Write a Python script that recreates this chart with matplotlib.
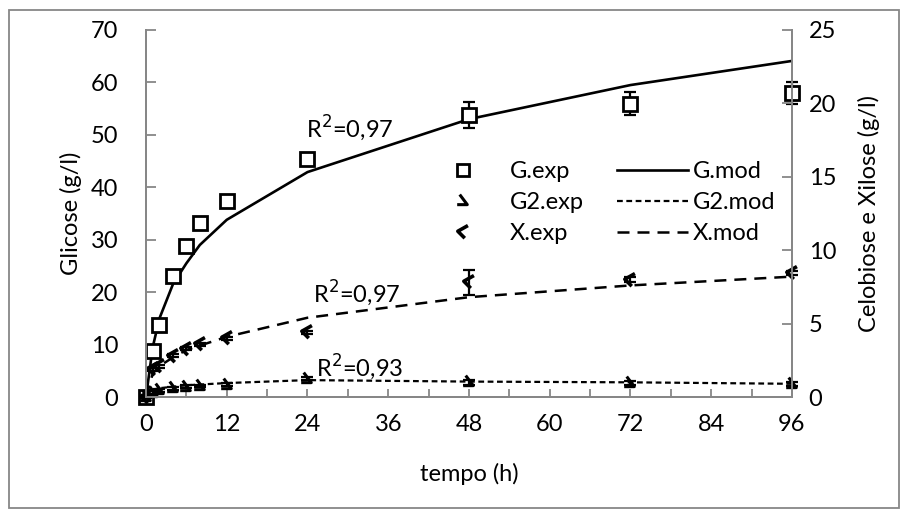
import matplotlib
matplotlib.use("Agg")
import matplotlib.pyplot as plt
from matplotlib.path import Path
from matplotlib.patches import Rectangle
from matplotlib.lines import Line2D

# tempo de hidrólise (h)
t_exp = [0, 1, 2, 4, 6, 8, 12, 24, 48, 72, 96]
t_mod = [0, 1, 2, 4, 6, 8, 12, 24, 48, 72, 96]

# glicose (eixo esquerdo, g/l)
g_exp = [0, 8.8, 13.7, 23.1, 28.8, 33.2, 37.4, 45.4, 53.8, 55.9, 58.0]
g_err = [0.4, 0.6, 0.8, 0.7, 1.0, 0.6, 0.6, 0.5, 2.5, 2.2, 2.1]
g_mod = [0, 9.5, 15.0, 21.5, 25.5, 29.0, 33.8, 42.9, 53.0, 59.5, 64.1]

# celobiose e xilose (eixo direito, g/l)
g2_exp = [0, 0.3, 0.45, 0.6, 0.7, 0.75, 0.85, 1.25, 1.0, 0.95, 0.9]
g2_err = [0.05, 0.1, 0.1, 0.1, 0.1, 0.1, 0.1, 0.1, 0.15, 0.15, 0.15]
g2_mod = [0, 0.5, 0.6, 0.7, 0.8, 0.85, 0.95, 1.15, 1.05, 1.0, 0.9]

x_exp = [0, 1.9, 2.1, 2.8, 3.3, 3.6, 4.0, 4.4, 7.8, 8.0, 8.45]
x_err = [0.05, 0.1, 0.1, 0.1, 0.1, 0.1, 0.1, 0.1, 0.85, 0.15, 0.15]
x_mod = [0, 1.6, 2.1, 2.7, 3.2, 3.5, 4.1, 5.4, 6.8, 7.6, 8.2]

r2_labels = ["0,97", "0,97", "0,93"]

plt.rcParams['font.family'] = ['Lato', 'DejaVu Sans']
plt.rcParams['font.size'] = 17
grey = '#878787'

fig = plt.figure(figsize=(9.04, 5.12), dpi=100)
W, H = 904, 512
ax = fig.add_axes([146 / W, 1 - 397 / H, (792 - 146) / W, (397 - 30) / H])
ax2 = ax.twinx()

# moldura externa do gráfico
fig.patches.append(Rectangle((9 / W, 1 - 508 / H), (899 - 9) / W, (508 - 10) / H,
                             transform=fig.transFigure, fill=False,
                             edgecolor=grey, lw=1.3))


def no_clip(container):
    for art in container.get_children():
        art.set_clip_on(False)


sq = dict(marker='s', ms=10, mfc='white', mec='black', mew=2.0)
m_g2 = Path([(-0.3, 0.55), (0.3, -0.25), (-0.5, -0.25)])
m_x = Path([(0.35, 0.55), (-0.45, 0.1), (0.1, -0.45)])

ax.plot(t_mod, g_mod, color='black', lw=1.9, zorder=3)
no_clip(ax.errorbar(t_exp, g_exp, yerr=g_err, fmt='none', ecolor='black',
                    elinewidth=1.6, capsize=4.5, capthick=1.6, zorder=4))
ax.plot(t_exp, g_exp, ls='none', zorder=5, clip_on=False, **sq)

ax2.plot(t_mod, g2_mod, color='black', lw=1.6, dashes=(2.6, 1.6))
ax2.plot(t_mod, x_mod, color='black', lw=1.8, dashes=(4.8, 3.2))
no_clip(ax2.errorbar(t_exp, g2_exp, yerr=g2_err, fmt='none', ecolor='black',
                     elinewidth=1.6, capsize=4.5, capthick=1.6))
no_clip(ax2.errorbar(t_exp, x_exp, yerr=x_err, fmt='none', ecolor='black',
                     elinewidth=1.6, capsize=4.5, capthick=1.6))
ax2.plot(t_exp, g2_exp, ls='none', marker=m_g2, ms=10, mfc='none',
         mec='black', mew=2.2, clip_on=False)
ax2.plot(t_exp, x_exp, ls='none', marker=m_x, ms=10, mfc='none',
         mec='black', mew=2.6, clip_on=False)

ax.set_xlim(0, 96)
ax.set_ylim(0, 70)
ax2.set_ylim(0, 25)
ax.set_xticks(range(0, 97, 12))
ax.set_xticks(range(6, 96, 12), minor=True)
ax.set_yticks(range(0, 71, 10))
ax2.set_yticks(range(0, 26, 5))

for a in (ax, ax2):
    a.spines['top'].set_visible(False)
    for s in ('left', 'right', 'bottom'):
        a.spines[s].set_color(grey)
        a.spines[s].set_linewidth(1.4)
ax.tick_params(axis='x', which='both', direction='in', length=6, width=1.3,
               color=grey, pad=12)
ax.tick_params(axis='y', direction='in', length=7, width=1.3, color=grey, pad=20)
ax2.tick_params(axis='y', direction='in', length=7, width=1.3, color=grey, pad=12)

ax.set_xlabel("tempo (h)", labelpad=20)
ax.set_ylabel("Glicose (g/l)", labelpad=6)
ax2.set_ylabel("Celobiose e Xilose (g/l)", labelpad=16)

ax.text(23.8, 51.3, "R$^2$=" + r2_labels[0], va='center', ha='left')
ax.text(24.8, 19.8, "R$^2$=" + r2_labels[1], va='center', ha='left')
ax.text(25.3, 5.7, "R$^2$=" + r2_labels[2], va='center', ha='left')

h_exp = [Line2D([], [], ls='none', marker='s', ms=9, mfc='white', mec='black', mew=2.0),
         Line2D([], [], ls='none', marker=m_g2, ms=10, mfc='none', mec='black', mew=2.2),
         Line2D([], [], ls='none', marker=m_x, ms=10, mfc='none', mec='black', mew=2.6)]
h_mod = [Line2D([], [], color='black', lw=1.9),
         Line2D([], [], color='black', lw=1.6, dashes=(2.6, 1.6)),
         Line2D([], [], color='black', lw=1.8, dashes=(4.8, 3.2))]

leg1 = ax2.legend(h_exp, ["G.exp", "G2.exp", "X.exp"], loc='upper left',
                  bbox_to_anchor=(451 / W, 1 - 161 / H), bbox_transform=fig.transFigure,
                  frameon=False, handlelength=1.0, handletextpad=1.5,
                  labelspacing=0.42, borderpad=0, borderaxespad=0)
ax2.add_artist(leg1)
ax2.legend(h_mod, ["G.mod", "G2.mod", "X.mod"], loc='upper left',
           bbox_to_anchor=(617 / W, 1 - 161 / H), bbox_transform=fig.transFigure,
           frameon=False, handlelength=3.0, handletextpad=0.2,
           labelspacing=0.42, borderpad=0, borderaxespad=0)

fig.savefig("out.png", dpi=100)
